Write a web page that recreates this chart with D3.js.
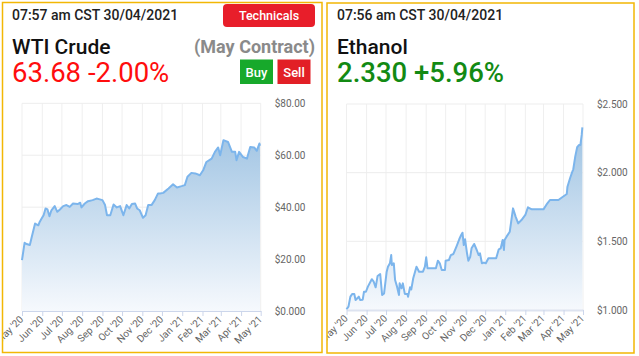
<!DOCTYPE html>
<html><head><meta charset="utf-8">
<script src="https://cdn.jsdelivr.net/npm/d3@7"></script>
<style>
html,body{margin:0;padding:0;background:#fff;overflow:hidden}
svg{display:block;font-family:Roboto,"Open Sans",sans-serif}
</style>
</head><body>
<svg id="c" width="639" height="356"></svg>
<script>
// ---- data ----
const monthTicks = ["2020-05-01","2020-06-01","2020-07-01","2020-08-01","2020-09-01","2020-10-01","2020-11-01","2020-12-01","2021-01-01","2021-02-01","2021-03-01","2021-04-01","2021-05-01"];

const wtiDates = ["2020-05-01","2020-05-05","2020-05-08","2020-05-13","2020-05-16","2020-05-21","2020-05-26","2020-05-28","2020-05-31","2020-06-03","2020-06-06","2020-06-09","2020-06-12","2020-06-15","2020-06-20","2020-06-24","2020-06-28","2020-07-03","2020-07-08","2020-07-13","2020-07-18","2020-07-25","2020-07-29","2020-07-31","2020-08-05","2020-08-10","2020-08-17","2020-08-23","2020-08-28","2020-09-01","2020-09-05","2020-09-08","2020-09-13","2020-09-18","2020-09-23","2020-09-28","2020-10-03","2020-10-08","2020-10-12","2020-10-16","2020-10-21","2020-10-24","2020-10-28","2020-11-02","2020-11-06","2020-11-10","2020-11-15","2020-11-20","2020-11-25","2020-11-28","2020-12-03","2020-12-11","2020-12-18","2020-12-24","2020-12-31","2021-01-05","2021-01-09","2021-01-15","2021-01-21","2021-01-28","2021-02-02","2021-02-07","2021-02-15","2021-02-20","2021-02-25","2021-02-28","2021-03-05","2021-03-12","2021-03-18","2021-03-23","2021-03-25","2021-03-29","2021-04-04","2021-04-10","2021-04-15","2021-04-21","2021-04-25","2021-04-29","2021-04-30"];
const wtiValues = [19.6,26.3,25.8,25.4,28.6,33.7,33.0,34.3,35.6,36.9,39.5,39.1,36.5,38.8,40.4,38.2,39.1,40.4,40.8,40.1,41.4,41.2,41.7,39.9,41.4,42.3,42.7,43.3,43.0,42.7,40.8,36.9,36.9,41.0,39.9,40.4,36.9,40.8,39.5,41.2,41.4,39.5,38.8,35.9,36.9,40.8,40.8,42.7,45.3,45.3,45.5,47.2,48.8,47.6,48.1,48.5,51.7,53.2,53.0,52.3,54.2,57.4,58.7,61.3,63.0,60.0,65.8,65.1,61.3,61.3,58.1,61.3,59.3,58.7,63.2,63.0,61.7,64.5,63.68];
const wtiYTicks = [0,20,40,60,80];

const ethDates = ["2020-05-01","2020-05-04","2020-05-07","2020-05-10","2020-05-13","2020-05-15","2020-05-20","2020-05-22","2020-05-26","2020-05-28","2020-05-31","2020-06-03","2020-06-09","2020-06-12","2020-06-15","2020-06-18","2020-06-22","2020-06-25","2020-06-28","2020-07-02","2020-07-04","2020-07-07","2020-07-09","2020-07-10","2020-07-13","2020-07-15","2020-07-18","2020-07-21","2020-07-22","2020-07-25","2020-07-27","2020-07-30","2020-08-03","2020-08-04","2020-08-07","2020-08-09","2020-08-12","2020-08-17","2020-08-21","2020-08-27","2020-08-30","2020-09-01","2020-09-03","2020-09-12","2020-09-16","2020-09-19","2020-09-22","2020-09-25","2020-09-30","2020-10-01","2020-10-06","2020-10-09","2020-10-13","2020-10-18","2020-10-22","2020-10-25","2020-10-27","2020-10-29","2020-10-31","2020-11-03","2020-11-05","2020-11-08","2020-11-10","2020-11-14","2020-11-18","2020-11-21","2020-11-23","2020-11-26","2020-11-29","2020-12-02","2020-12-06","2020-12-13","2020-12-18","2020-12-22","2020-12-25","2020-12-28","2020-12-30","2020-12-31","2021-01-03","2021-01-08","2021-01-13","2021-01-17","2021-01-21","2021-01-26","2021-02-01","2021-02-05","2021-02-11","2021-02-19","2021-03-01","2021-03-07","2021-03-11","2021-03-24","2021-03-31","2021-04-06","2021-04-07","2021-04-11","2021-04-14","2021-04-16","2021-04-19","2021-04-22","2021-04-25","2021-04-27","2021-04-29","2021-04-30"];
const ethValues = [1.005,1.024,1.097,1.117,1.117,1.073,1.097,1.073,1.075,1.133,1.133,1.17,1.224,1.206,1.165,1.248,1.262,1.109,1.121,1.279,1.315,1.34,1.40,1.328,1.34,1.218,1.17,1.109,1.194,1.158,1.194,1.117,1.117,1.097,1.165,1.15,1.231,1.315,1.279,1.279,1.315,1.384,1.304,1.304,1.304,1.359,1.34,1.291,1.291,1.359,1.364,1.40,1.408,1.466,1.515,1.546,1.563,1.473,1.515,1.413,1.359,1.388,1.449,1.481,1.437,1.40,1.413,1.34,1.345,1.34,1.377,1.377,1.377,1.442,1.449,1.51,1.437,1.51,1.534,1.57,1.74,1.68,1.631,1.655,1.692,1.748,1.733,1.733,1.733,1.777,1.801,1.801,1.825,1.845,1.898,1.959,2.0,2.025,2.117,2.185,2.202,2.202,2.275,2.33];
const ethYTicks = [1.0,1.5,2.0,2.5];

// ---- drawing ----
const svg = d3.select("#c");
svg.append("rect").attr("width",639).attr("height",356).attr("fill","#fff");
const parse = d3.timeParse("%Y-%m-%d");
const tickDates = monthTicks.map(parse);
const defs = svg.append("defs");
const priceFmt = d => "$" + d.toPrecision(4);

function panel(id, box){
  defs.append("clipPath").attr("id","clip-"+id)
    .append("rect").attr("x",box[0]).attr("y",box[1]).attr("width",box[2]).attr("height",box[3]);
  return svg.append("g").attr("clip-path","url(#clip-"+id+")");
}

function drawChart(g, id, dates, values, yTicks, xr, yr, yDomain, axisW, axisC){
  const data = dates.map((d,i)=>({date:parse(d), v:values[i]}));
  const x = d3.scaleTime().domain([tickDates[0], tickDates[tickDates.length-1]]).range(xr);
  const y = d3.scaleLinear().domain(yDomain).range(yr);
  const grad = defs.append("linearGradient").attr("id","grad-"+id)
    .attr("gradientUnits","userSpaceOnUse").attr("x1",0).attr("x2",0).attr("y1",yr[1]).attr("y2",yr[0]);
  grad.append("stop").attr("offset",0).attr("stop-color","#93bcdf");
  grad.append("stop").attr("offset",1).attr("stop-color","#f6f9fd");
  // grid
  g.append("g").selectAll("line").data(tickDates).join("line")
    .attr("x1",d=>x(d)).attr("x2",d=>x(d)).attr("y1",yr[1]).attr("y2",yr[0])
    .attr("stroke","#efefef").attr("stroke-width",1);
  g.append("g").selectAll("line").data(yTicks).join("line")
    .attr("x1",xr[0]).attr("x2",xr[1]).attr("y1",d=>y(d)).attr("y2",d=>y(d))
    .attr("stroke","#ededed").attr("stroke-width",1);
  // area + line
  g.append("path").datum(data).attr("fill","url(#grad-"+id+")")
    .attr("d", d3.area().x(d=>x(d.date)).y0(yr[0]).y1(d=>y(d.v)));
  g.append("path").datum(data).attr("fill","none").attr("stroke","#7cb5ec").attr("stroke-width",2)
    .attr("stroke-linejoin","round")
    .attr("d", d3.line().x(d=>x(d.date)).y(d=>y(d.v)));
  // x axis
  const ax = g.append("g").attr("transform","translate(0,"+yr[0]+")")
    .call(d3.axisBottom(x).tickValues(tickDates).tickFormat(d3.timeFormat("%b '%y")).tickSize(5).tickSizeOuter(0));
  ax.select(".domain").attr("stroke",axisC).attr("stroke-width",axisW);
  ax.selectAll(".tick line").attr("stroke","#ccd6eb");
  ax.selectAll(".tick text").attr("fill","#666").attr("font-size","10px")
    .attr("font-family","Roboto, sans-serif")
    .attr("x",0).attr("y",0).attr("dy",0).attr("text-anchor","end")
    .attr("transform","translate(1.5,9) rotate(-45)");
  // y labels
  g.append("g").selectAll("text").data(yTicks).join("text")
    .attr("x",xr[1]+14).attr("y",d=>y(d)).attr("dy","0.35em")
    .attr("fill","#666").attr("font-size","10px").text(priceFmt);
}

// Panel 1: WTI Crude
const p1 = panel("a",[2.5,2.5,319.5,350]);
drawChart(p1,"a",wtiDates,wtiValues,wtiYTicks,[22,260.7],[311,103.3],[0,80],1,"#ccd6eb");
svg.append("rect").attr("x",2.5).attr("y",2.5).attr("width",319.5).attr("height",350)
  .attr("fill","none").attr("stroke","#f2b705").attr("stroke-width",1.5);
svg.append("text").attr("x",12).attr("y",19.5).attr("font-size","14px").attr("font-weight",500).attr("fill","#222").text("07:57 am CST 30/04/2021");
svg.append("rect").attr("x",223).attr("y",4).attr("width",92).attr("height",23).attr("rx",4).attr("fill","#e81e2a");
svg.append("text").attr("x",269).attr("y",20).attr("text-anchor","middle").attr("font-size","12.5px").attr("font-weight",500).attr("fill","#fff").text("Technicals");
svg.append("text").attr("x",12).attr("y",54).attr("font-size","21px").attr("font-weight",500).attr("fill","#111").text("WTI Crude");
svg.append("text").attr("x",315).attr("y",52.5).attr("text-anchor","end").attr("font-size","18px").attr("font-weight",700).attr("fill","#8a8a8a").text("(May Contract)");
svg.append("text").attr("x",12).attr("y",82).attr("font-size","27.5px").attr("fill","#ff0d0d").text("63.68 -2.00%");
svg.append("rect").attr("x",240).attr("y",59.5).attr("width",33).attr("height",24.5).attr("fill","#17a92b");
svg.append("text").attr("x",256.5).attr("y",76.5).attr("text-anchor","middle").attr("font-size","13px").attr("font-weight",500).attr("fill","#fff").text("Buy");
svg.append("rect").attr("x",277.5).attr("y",59.5).attr("width",33).attr("height",24.5).attr("fill","#e21f26");
svg.append("text").attr("x",294).attr("y",76.5).attr("text-anchor","middle").attr("font-size","13px").attr("font-weight",500).attr("fill","#fff").text("Sell");

// Panel 2: Ethanol
const p2 = panel("b",[327,3,307,350]);
drawChart(p2,"b",ethDates,ethValues,ethYTicks,[346.5,583],[310,104],[1.0,2.5],2,"#dde3f0");
svg.append("rect").attr("x",327).attr("y",3).attr("width",307).attr("height",350)
  .attr("fill","none").attr("stroke","#f2b705").attr("stroke-width",1.5);
svg.append("text").attr("x",337).attr("y",19.5).attr("font-size","14px").attr("font-weight",500).attr("fill","#222").text("07:56 am CST 30/04/2021");
svg.append("text").attr("x",337).attr("y",54).attr("font-size","21px").attr("font-weight",500).attr("fill","#111").text("Ethanol");
svg.append("text").attr("x",337).attr("y",82).attr("font-size","27.5px").attr("font-weight",500).attr("fill","#138a13").text("2.330 +5.96%");
</script>
</body></html>
